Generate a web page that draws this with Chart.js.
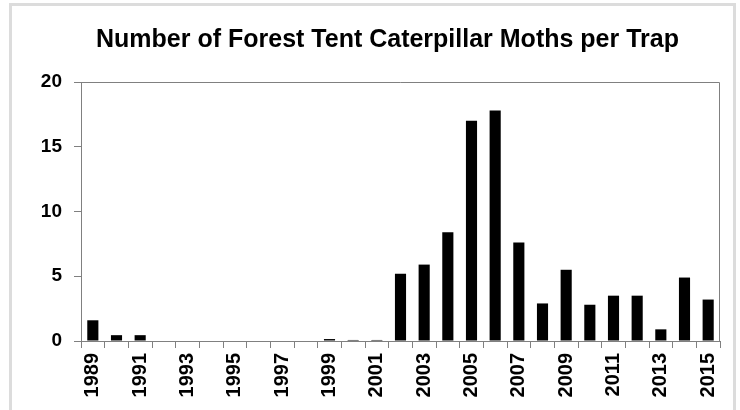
<!DOCTYPE html>
<html>
<head>
<meta charset="utf-8">
<script src="https://cdn.jsdelivr.net/npm/chart.js@4"></script>
<style>
  body { margin: 0; background: #fff; }
  #wrap { position: relative; width: 740px; height: 410px; overflow: hidden; }
  #frame { position: absolute; left: 9px; top: 3px; width: 721px; height: 450px;
           border: 3px solid #dcdcdc; box-sizing: content-box; }
  canvas { position: absolute; left: 0; top: 0; }
</style>
</head>
<body>
<div id="wrap">
  <div id="frame"></div>
  <canvas id="chartMoths" width="740" height="410"></canvas>
</div>
<script>
const years = ["1989","1990","1991","1992","1993","1994","1995","1996","1997","1998","1999","2000",
  "2001","2002","2003","2004","2005","2006","2007","2008","2009","2010","2011","2012","2013","2014","2015"];
const mothsPerTrap = [1.6, 0.45, 0.45, 0, 0, 0, 0, 0, 0, 0, 0.15, 0.08,
  0.08, 5.2, 5.9, 8.4, 17.0, 17.8, 7.6, 2.9, 5.5, 2.8, 3.5, 3.5, 0.9, 4.9, 3.2];
const yMax = 20;
const yStep = 5;
const chartTitle = "Number of Forest Tent Caterpillar Moths per Trap";

// title (a bit right of canvas centre, like the original) + top/right border of plot area
const plotFrame = {
  id: "plotFrame",
  afterDraw(chart) {
    const a = chart.chartArea, c = chart.ctx;
    c.save();
    c.strokeStyle = "#808080";
    c.lineWidth = 1;
    c.beginPath();
    c.moveTo(a.left, a.top + 0.5);
    c.lineTo(a.right - 0.5, a.top + 0.5);
    c.lineTo(a.right - 0.5, a.bottom);
    c.stroke();

    c.fillStyle = "#000";
    c.font = "bold 25px 'Liberation Sans', Arial";
    c.textAlign = "center";
    c.textBaseline = "middle";
    c.fillText(chartTitle, (a.left + a.right) / 2 - 13, a.top - 42);
    c.restore();
  }
};

new Chart(document.getElementById("chartMoths"), {
  type: "bar",
  data: {
    labels: years,
    datasets: [{ label: "Moths per trap", data: mothsPerTrap, backgroundColor: "#000",
      barPercentage: 0.47, categoryPercentage: 1 }]
  },
  options: {
    responsive: false,
    animation: false,
    layout: { padding: { left: 0, right: 20, top: 82, bottom: 0 } },
    plugins: {
      legend: { display: false },
      tooltip: { enabled: false },
      title: { display: false }
    },
    scales: {
      x: {
        afterFit(s) { s.height = 69; },
        grid: { drawOnChartArea: false, tickLength: 7, color: "#808080" },
        border: { color: "#808080" },
        ticks: {
          autoSkip: false, minRotation: 90, maxRotation: 90, padding: 5, color: "#000",
          font: { family: "Liberation Sans, Arial", size: 20, weight: "bold" },
          callback: (v, i) => (i % 2 === 0 ? years[i] : "")
        }
      },
      y: {
        min: 0, max: yMax,
        afterFit(s) { s.width = 81; },
        grid: { drawOnChartArea: false, tickLength: 7, color: "#808080" },
        border: { color: "#808080" },
        ticks: {
          stepSize: yStep, padding: 12, color: "#000",
          font: { family: "Liberation Sans, Arial", size: 19, weight: "bold" }
        }
      }
    }
  },
  plugins: [plotFrame]
});
</script>
</body>
</html>
